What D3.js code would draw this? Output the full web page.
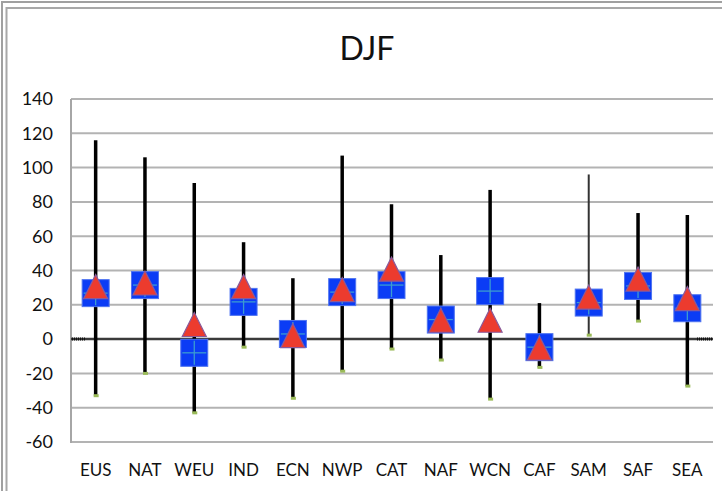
<!DOCTYPE html>
<html>
<head>
<meta charset="utf-8">
<style>
  body { margin: 0; background: #fff; }
  svg text { font-family: Lato, 'Open Sans', sans-serif; fill: #111; }
</style>
</head>
<body>
<script src="https://d3js.org/d3.v7.min.js"></script>
<div id="chart"></div>
<script>
// regions along the x axis
var cats = ["EUS", "NAT", "WEU", "IND", "ECN", "NWP", "CAT", "NAF", "WCN", "CAF", "SAM", "SAF", "SEA"];
// high / low of each whisker
var maxV = [116, 106, 91, 56.5, 35.5, 107, 78.7, 49, 87, 21, 96, 73.5, 72.3];
var minV = [-33, -20, -43, -4.7, -34.5, -18.7, -5.8, -12.2, -35, -16.5, 2.3, 10.5, -27.4];
// blue square (with cross) and red triangle markers
var boxV = [26.8, 31.5, -8, 21.7, 3, 27.4, 31.5, 11.4, 28, -4.7, 21.3, 31, 18];
var triV = [30.6, 32.7, 8.5, 30.6, 2, 28.9, 40.8, 11, 11, -5.2, 24.5, 35, 23.6];
var yTicks = [-60, -40, -20, 0, 20, 40, 60, 80, 100, 120, 140];

var W = 722, H = 491;
var svg = d3.select("#chart").append("svg")
  .attr("width", W).attr("height", H);

// outer frame (double grey line)
svg.append("path").attr("d", "M2,491V2H722").attr("fill", "none")
  .attr("stroke", "#a0a0a0").attr("stroke-width", 2);
svg.append("path").attr("d", "M6.5,491V8H722").attr("fill", "none")
  .attr("stroke", "#a8a8a8").attr("stroke-width", 2);

var x = d3.scaleBand().domain(cats).range([71, 712]).padding(0);
var y = d3.scaleLinear().domain([-60, 140]).range([442, 99]);

// title
svg.append("text").attr("x", 367).attr("y", 60)
  .attr("text-anchor", "middle").style("font-size", "32px").text("DJF");

// gridlines
svg.append("g").selectAll("line")
  .data(yTicks.filter(function(d) { return d !== 0; }))
  .enter().append("line")
  .attr("x1", 71).attr("x2", 713)
  .attr("y1", function(d) { return y(d); })
  .attr("y2", function(d) { return y(d); })
  .attr("stroke", "#b3b3b3").attr("stroke-width", 2);

// left axis border
svg.append("line").attr("x1", 71).attr("x2", 71)
  .attr("y1", y(140)).attr("y2", y(-60) + 1)
  .attr("stroke", "#a6a6a6").attr("stroke-width", 2);

// y labels
svg.append("g").selectAll("text")
  .data(yTicks).enter().append("text")
  .attr("x", 53).attr("y", function(d) { return y(d); })
  .attr("dy", "0.35em").attr("text-anchor", "end")
  .style("font-size", "18px")
  .text(function(d) { return d; });

// zero line
svg.append("line").attr("x1", 71).attr("x2", 713)
  .attr("y1", y(0)).attr("y2", y(0))
  .attr("stroke", "#3a3a3a").attr("stroke-width", 2.5);
svg.append("line").attr("x1", 72).attr("x2", 86)
  .attr("y1", y(0)).attr("y2", y(0))
  .attr("stroke", "#111").attr("stroke-width", 3).attr("stroke-dasharray", "1,1");
svg.append("line").attr("x1", 697).attr("x2", 712)
  .attr("y1", y(0)).attr("y2", y(0))
  .attr("stroke", "#111").attr("stroke-width", 3).attr("stroke-dasharray", "1,1");

// x labels
svg.append("g").selectAll("text")
  .data(cats).enter().append("text")
  .attr("x", function(d) { return x(d) + x.bandwidth() / 2; })
  .attr("y", 476).attr("text-anchor", "middle")
  .style("font-size", "17px")
  .text(function(d) { return d; });

var rows = cats.map(function(c, i) {
  return { cat: c, hi: maxV[i], lo: minV[i], box: boxV[i], tri: triV[i] };
});
function cx(d) { return x(d.cat) + x.bandwidth() / 2; }

// whiskers
svg.append("g").selectAll("line")
  .data(rows).enter().append("line")
  .attr("x1", cx).attr("x2", cx)
  .attr("y1", function(d) { return y(d.hi); })
  .attr("y2", function(d) { return y(d.lo); })
  .attr("stroke", function(d) { return d.cat === "SAM" ? "#333" : "#000"; })
  .attr("stroke-width", function(d) { return d.cat === "SAM" ? 2 : 3.5; });

// low markers
svg.append("g").selectAll("rect")
  .data(rows).enter().append("rect")
  .attr("x", function(d) { return cx(d) - 2; })
  .attr("y", function(d) { return y(d.lo) - 1.5; })
  .attr("width", 5).attr("height", 3)
  .attr("fill", "#9bbb59");

// blue squares
var sq = 27;
svg.append("g").selectAll("rect")
  .data(rows).enter().append("rect")
  .attr("x", function(d) { return cx(d) - sq / 2; })
  .attr("y", function(d) { return y(d.box) - sq / 2; })
  .attr("width", sq).attr("height", sq)
  .attr("fill", "#0b3cf5").attr("stroke", "#4f74f0").attr("stroke-width", 1);

// crosses inside the squares
var cross = svg.append("g").attr("stroke", "#3b9bd0").attr("stroke-width", 1.3);
cross.selectAll("line.h").data(rows).enter().append("line").attr("class", "h")
  .attr("x1", function(d) { return cx(d) - 12; })
  .attr("x2", function(d) { return cx(d) + 12; })
  .attr("y1", function(d) { return y(d.box); })
  .attr("y2", function(d) { return y(d.box); });
cross.selectAll("line.v").data(rows).enter().append("line").attr("class", "v")
  .attr("x1", cx).attr("x2", cx)
  .attr("y1", function(d) { return y(d.box) - 12; })
  .attr("y2", function(d) { return y(d.box) + 12; });

// red triangles
var tw = 24, th = 24;
svg.append("g").selectAll("path")
  .data(rows).enter().append("path")
  .attr("d", function(d) {
    var px = cx(d), py = y(d.tri);
    return "M" + px + "," + (py - th / 2) +
      "L" + (px + tw / 2) + "," + (py + th / 2) +
      "L" + (px - tw / 2) + "," + (py + th / 2) + "Z";
  })
  .attr("fill", "#ec3b2e").attr("stroke", "#8a5a9a").attr("stroke-width", 1.2);
</script>
</body>
</html>
